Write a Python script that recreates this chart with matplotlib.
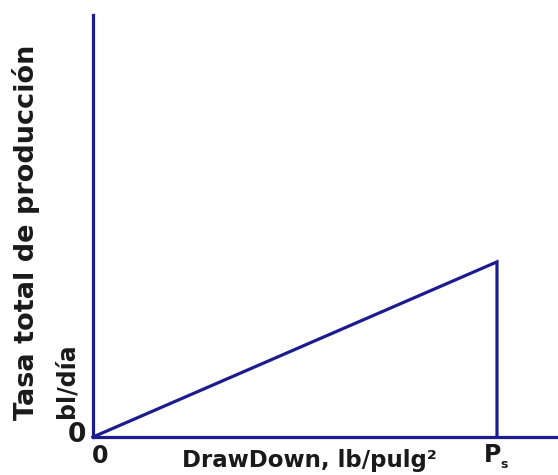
import matplotlib.pyplot as plt

# curve: rises linearly from origin to Ps, then drops straight down
x_vals = [0, 1.0, 1.0]
y_vals = [0, 0.415, 0]

x_max = 1.151
y_max = 1.0

navy = '#1c1c8e'
txt = '#1a1a1a'

plt.rcParams['font.family'] = ['DejaVu Sans']

fig = plt.figure(figsize=(5.58, 4.75), dpi=100)
ax = fig.add_axes([93/558, 38/475, 465/558, 422/475])

ax.plot(x_vals, y_vals, color=navy, lw=2.3, solid_joinstyle='miter', clip_on=False)

ax.set_xlim(0, x_max)
ax.set_ylim(0, y_max)
for s in ['top', 'right']:
    ax.spines[s].set_visible(False)
for s in ['left', 'bottom']:
    ax.spines[s].set_color(navy)
    ax.spines[s].set_linewidth(2.3)
ax.set_xticks([])
ax.set_yticks([])

# labels
fig.text(26/558, 1 - 232/475, 'Tasa total de producción', rotation=90,
         ha='center', va='center', fontsize=19.5, fontweight='bold', color=txt)
fig.text(66/558, 1 - 381/475, 'bl/día', rotation=90,
         ha='center', va='center', fontsize=17, fontweight='bold', color=txt)
fig.text(77/558, 1 - 435/475, '0', ha='center', va='center',
         fontsize=19, fontweight='bold', color=txt)
fig.text(100/558, 1 - 456/475, '0', ha='center', va='center',
         fontsize=17, fontweight='bold', color=txt)
fig.text(309/558, 1 - 461/475, 'DrawDown, lb/pulg²', ha='center', va='center',
         fontsize=16.5, fontweight='bold', color=txt)
fig.text(493/558, 1 - 455/475, 'P', ha='center', va='center',
         fontsize=17, fontweight='bold', color=txt)
fig.text(504/558, 1 - 465/475, 's', ha='center', va='center',
         fontsize=9, fontweight='bold', color=txt)

plt.savefig('out.png', dpi=100)
